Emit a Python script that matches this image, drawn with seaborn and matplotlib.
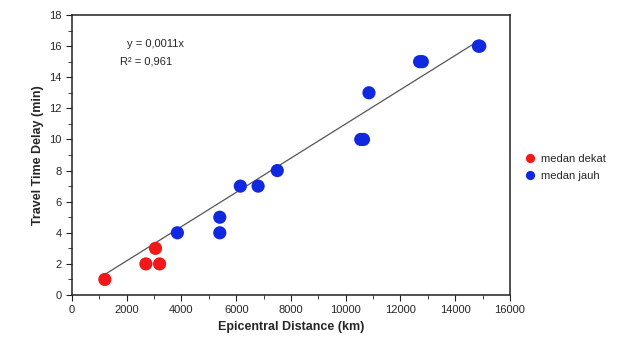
import numpy as np
import pandas as pd
import seaborn as sns
from matplotlib import pyplot as plt
from matplotlib.ticker import MultipleLocator

sns.set_style("ticks")
plt.rcParams['font.family'] = ['Liberation Sans', 'DejaVu Sans']

dist_dekat = [1200, 2700, 3050, 3200]
delay_dekat = [1, 2, 3, 2]
dist_jauh = [3850, 5400, 5400, 6150, 6800, 7500, 10550, 10650, 10850, 12700, 12800, 14850, 14900]
delay_jauh = [4, 4, 5, 7, 7, 8, 10, 10, 13, 15, 15, 16, 16]
slope = 0.0011
r2 = 0.961

df = pd.DataFrame({
    'dist': dist_dekat + dist_jauh,
    'delay': delay_dekat + delay_jauh,
    'group': ['medan dekat'] * len(dist_dekat) + ['medan jauh'] * len(dist_jauh),
})

fig = plt.figure(figsize=(6.35, 3.49), dpi=100)
ax = fig.add_axes([0.1134, 0.1547, 0.6896, 0.8023])

xl = np.array([min(df['dist']) - 50, max(df['dist'])])
ax.plot(xl, slope * xl, color='#555555', lw=0.9, zorder=1)

sns.scatterplot(data=df, x='dist', y='delay', hue='group',
                palette={'medan dekat': '#f01818', 'medan jauh': '#1028e0'},
                s=90, edgecolor='none', ax=ax, zorder=2)

ax.set_xlim(0, 16000)
ax.set_ylim(0, 18)
ax.xaxis.set_major_locator(MultipleLocator(2000))
ax.xaxis.set_minor_locator(MultipleLocator(1000))
ax.yaxis.set_major_locator(MultipleLocator(2))
ax.yaxis.set_minor_locator(MultipleLocator(1))
ax.tick_params(axis='both', which='major', labelsize=8, length=4, color='#222222')
ax.tick_params(axis='both', which='minor', length=3, color='#222222')
for s in ax.spines.values():
    s.set_linewidth(1.1)
    s.set_color('#222222')

ax.set_xlabel('Epicentral Distance (km)', fontsize=9, fontweight='bold')
ax.set_ylabel('Travel Time Delay (min)', fontsize=9, fontweight='bold')

ax.text(0.19, 0.885, 'y = 0,0011x', transform=ax.transAxes, fontsize=8, ha='center')
ax.text(0.17, 0.825, 'R² = 0,961', transform=ax.transAxes, fontsize=8, ha='center')

ax.legend(loc='center left', bbox_to_anchor=(1.01, 0.455), frameon=False,
          fontsize=8, handletextpad=0.0, markerscale=0.7, borderaxespad=0,
          labelspacing=0.6)

fig.savefig('out.png', dpi=100, facecolor='white')
